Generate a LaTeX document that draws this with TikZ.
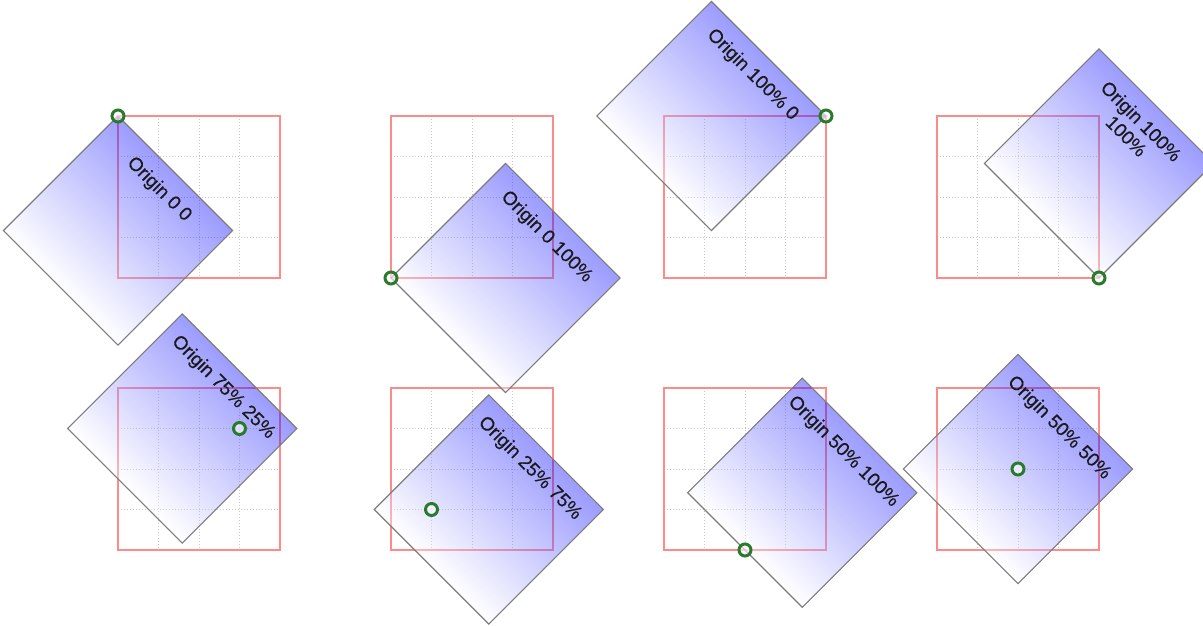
\documentclass[tikz,border=0pt]{standalone}
\usepackage{fontspec}
\setmainfont{Liberation Sans}
\newfontfamily\capfont[FakeBold=0.45]{Liberation Sans}
\usepackage{xcolor}
\definecolor{GuideRed}{HTML}{FF8A8A}
\definecolor{GridGray}{HTML}{C8C8C8}
\definecolor{TileBlue}{HTML}{0000FF}
\definecolor{EdgeGray}{HTML}{7C7C7C}
\definecolor{MarkGreen}{HTML}{2A7A2E}

\begin{document}
\begin{tikzpicture}[x=1pt,y=-1pt,
    guide/.style={GuideRed,line width=1.7pt},
    gridline/.style={GridGray,line width=1pt,dash pattern=on 1.2pt off 1.8pt},
    tile/.style={top color=TileBlue,middle color=TileBlue!75!white,bottom color=white,fill opacity=0.39,draw=EdgeGray,line width=1.1pt},
    caption/.style={font=\capfont\fontsize{19}{21}\selectfont,text=black!90,align=center,inner sep=0pt,anchor=north},
    originmark/.style={circle,draw=MarkGreen,line width=3pt,fill=white,fill opacity=0.6,minimum size=12pt,inner sep=0pt}]
  \useasboundingbox (0,0) rectangle (1203,626);
  % Reference squares with 4x4 grid
  \foreach \ox/\oy in {118/116,391/116,664/116,937/116,118/388,391/388,664/388,937/388} {
    \foreach \k in {1,2,3} {
      \draw[gridline] (\ox+\k*40.5,\oy) -- (\ox+\k*40.5,\oy+162);
      \draw[gridline] (\ox,\oy+\k*40.5) -- (\ox+162,\oy+\k*40.5);
    }
    \draw[guide] (\ox,\oy) rectangle ++(162,162);
  }
  % Rotated tiles, turned about their origin
  \foreach \ox/\oy/\pu/\pv/\lbl [count=\i] in {
      118/116/0/0/{Origin 0 0},
      391/116/0/1/{Origin 0 100\%},
      664/116/1/0/{Origin 100\% 0},
      937/116/1/1/{Origin 100\%\\100\%},
      118/388/0.75/0.25/{Origin 75\% 25\%},
      391/388/0.25/0.75/{Origin 25\% 75\%},
      664/388/0.5/1/{Origin 50\% 100\%},
      937/388/0.5/0.5/{Origin 50\% 50\%}} {
    \begin{scope}[transform canvas={shift={(\ox+\pu*162,\oy+\pv*162)},rotate=-45}]
      \shade[tile] (-\pu*162,-\pv*162) rectangle ++(162,162);
      \node[caption] (label\i) at (81-\pu*162,14-\pv*162) {\lbl};
    \end{scope}
    \node[originmark] (origin\i) at (\ox+\pu*162,\oy+\pv*162) {};
  }
\end{tikzpicture}
\end{document}
